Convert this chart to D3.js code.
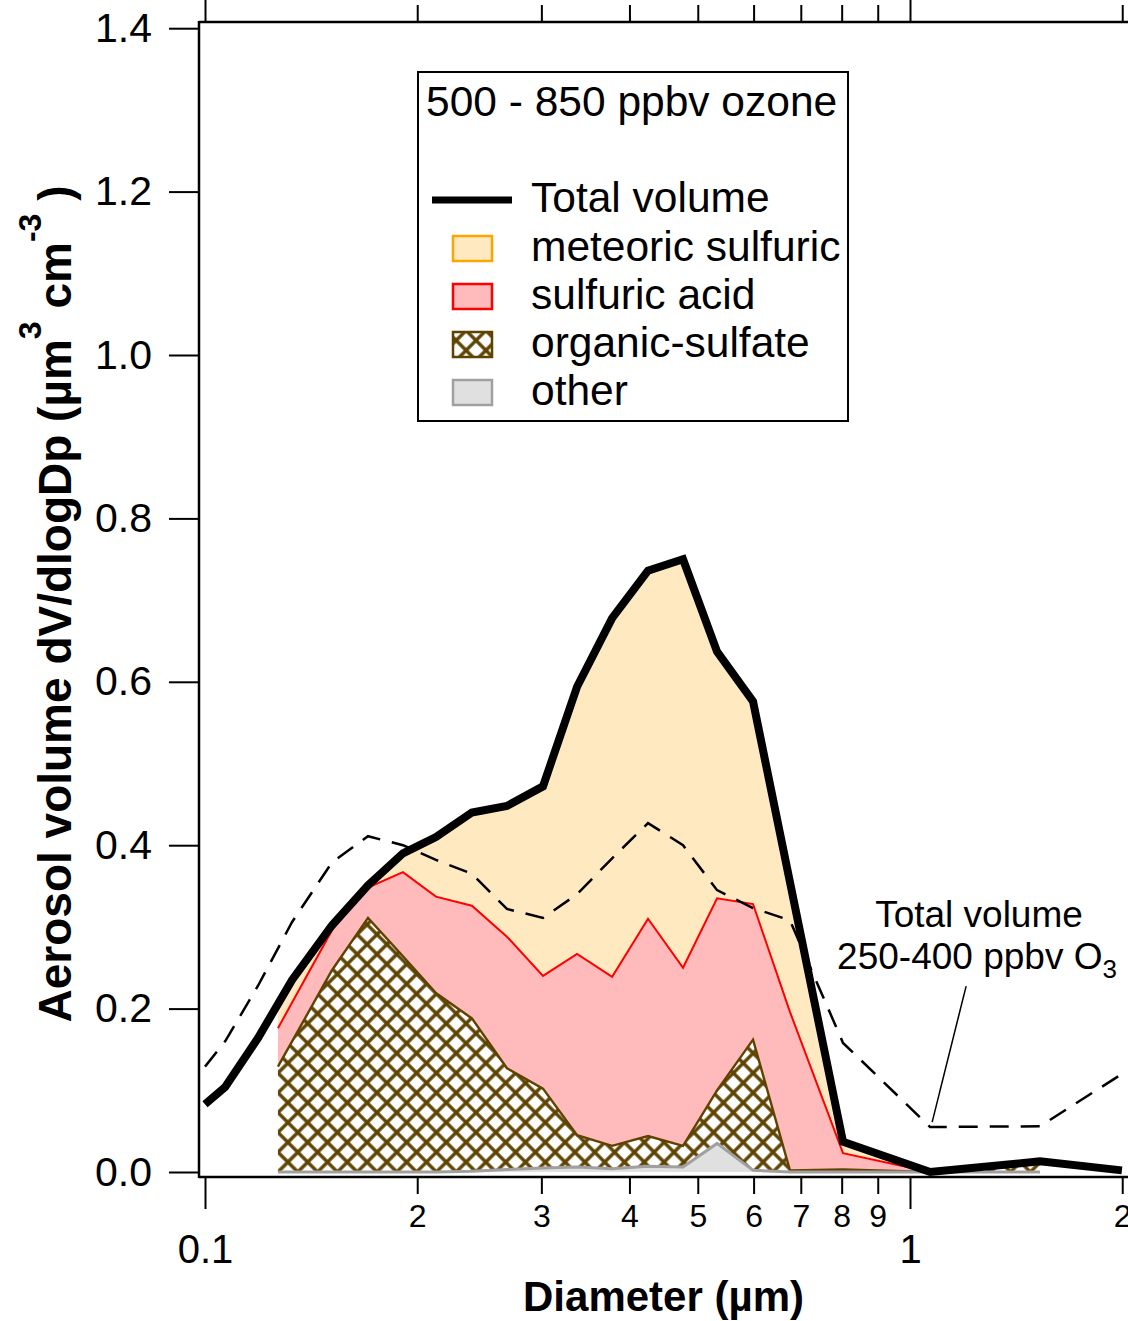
<!DOCTYPE html>
<html><head><meta charset="utf-8">
<script src="https://cdn.jsdelivr.net/npm/d3@7"></script>
<style>
body{margin:0;background:#fff}
svg{display:block}
text{font-family:"Liberation Sans",Arial,Helvetica,sans-serif}
</style>
</head><body>
<svg id="c" width="1128" height="1321"></svg>
<script>
// ---------- DATA ----------
// Total volume, 500-850 ppbv ozone (thick black line)
const totalD = [0.100, 0.1068, 0.1189, 0.1329, 0.1514, 0.1703, 0.1909, 0.2126, 0.2391, 0.2681, 0.3016, 0.3371, 0.3780, 0.4250, 0.4765, 0.5325, 0.5989, 0.8035, 1.068, 1.529, 1.998];
const totalV = [0.083, 0.104, 0.164, 0.235, 0.302, 0.351, 0.390, 0.410, 0.440, 0.448, 0.472, 0.594, 0.678, 0.736, 0.750, 0.637, 0.576, 0.037, 0.000, 0.013, 0.002];
// Total volume, 250-400 ppbv O3 (dashed)
const lowD = [0.100, 0.1068, 0.1189, 0.1329, 0.1514, 0.1703, 0.1909, 0.2126, 0.2391, 0.2681, 0.3016, 0.3371, 0.3780, 0.4250, 0.4765, 0.5325, 0.5989, 0.6756, 0.8035, 1.068, 1.529, 1.998];
const lowV = [0.129, 0.160, 0.228, 0.306, 0.379, 0.411, 0.400, 0.382, 0.365, 0.322, 0.311, 0.340, 0.384, 0.427, 0.400, 0.345, 0.323, 0.308, 0.158, 0.055, 0.056, 0.120];
// Composition (stacked)
const compD    = [0.1269, 0.1514, 0.1703, 0.1909, 0.2126, 0.2391, 0.2681, 0.3016, 0.3371, 0.3780, 0.4250, 0.4765, 0.5325, 0.5989, 0.6756, 0.8035, 1.068, 1.529];
const other    = [0, 0, 0, 0, 0, 0.001, 0.003, 0.005, 0.006, 0.004, 0.007, 0.006, 0.035, 0.002, 0, 0, 0, 0];
const organic  = [0.129, 0.247, 0.311, 0.264, 0.219, 0.187, 0.124, 0.097, 0.039, 0.028, 0.037, 0.026, 0.065, 0.160, 0.002, 0.003, 0.0, 0.012];
const sulfuric = [0.047, 0.049, 0.037, 0.103, 0.118, 0.138, 0.161, 0.138, 0.222, 0.207, 0.266, 0.218, 0.235, 0.166, 0.194, 0.020, 0.0, 0.0];
const meteoric = [0.029, 0.006, 0.003, 0.023, 0.073, 0.114, 0.160, 0.232, 0.327, 0.439, 0.426, 0.500, 0.302, 0.248, 0.158, 0.014, 0.0, 0.001];
// Ticks
const yTicks = [0, 0.2, 0.4, 0.6, 0.8, 1.0, 1.2, 1.4];
const xMajor = [0.1, 1];
const xMajorLabels = ["0.1", "1"];
const xMinor = [0.2, 0.3, 0.4, 0.5, 0.6, 0.7, 0.8, 0.9, 2];
const xMinorLabels = ["2", "3", "4", "5", "6", "7", "8", "9", "2"];
// Legend
const legendTitle = "500 - 850 ppbv ozone";
const legendKeys = ["meteoric", "sulfuric", "organic", "other"];
const legendLabels = ["meteoric sulfuric", "sulfuric acid", "organic-sulfate", "other"];

// ---------- STYLE ----------
const W = 1128, H = 1321;
const L = 199, T = 22, B = 1177, R = W;
const fills = {meteoric: "#FFE9C1", sulfuric: "#FFBBBB", organic: "url(#hatch)", other: "#E0E0E0"};
const strokes = {meteoric: "#FFA500", sulfuric: "#FF0000", organic: "#5E4300", other: "#A0A0A0"};
const strokeW = {meteoric: 1.5, sulfuric: 2, organic: 2.4, other: 3};
const font = '"Liberation Sans",Arial,sans-serif';

const svg = d3.select("#c");
const x = d3.scaleLog().domain([0.1, 1]).range([205, 910]);
const y = d3.scaleLinear().domain([0, 1.4]).range([1172, 28.2]);

const defs = svg.append("defs");
defs.append("clipPath").attr("id", "plotclip").append("rect")
  .attr("x", L).attr("y", T).attr("width", R - L).attr("height", B - T);
const P = 14, PW = 3.4;
const pat = defs.append("pattern").attr("id", "hatch").attr("patternUnits", "userSpaceOnUse")
  .attr("width", P).attr("height", P).attr("patternTransform", "translate(278,1172) rotate(45)");
pat.append("rect").attr("width", P).attr("height", P).attr("fill", "#fff");
pat.append("rect").attr("x", -PW / 2).attr("y", -PW / 2).attr("width", P + PW).attr("height", PW).attr("fill", strokes.organic);
pat.append("rect").attr("x", -PW / 2).attr("y", P - PW / 2).attr("width", P + PW).attr("height", PW).attr("fill", strokes.organic);
pat.append("rect").attr("x", -PW / 2).attr("y", -PW / 2).attr("width", PW).attr("height", P + PW).attr("fill", strokes.organic);
pat.append("rect").attr("x", P - PW / 2).attr("y", -PW / 2).attr("width", PW).attr("height", P + PW).attr("fill", strokes.organic);

const plot = svg.append("g").attr("clip-path", "url(#plotclip)");

// stacked composition
const rows = compD.map((d, i) => ({d, other: other[i], organic: organic[i], sulfuric: sulfuric[i], meteoric: meteoric[i]}));
const series = d3.stack().keys(["other", "organic", "sulfuric", "meteoric"])(rows);
const area = d3.area().x(p => x(p.data.d)).y0(p => y(p[0])).y1(p => y(p[1]));
const topLine = d3.line().x(p => x(p.data.d)).y(p => y(p[1]));

plot.selectAll("path.area").data(series).enter().append("path")
  .attr("class", "area").attr("d", area).attr("fill", s => fills[s.key]).attr("stroke", "none");
["meteoric", "sulfuric", "organic", "other"].forEach(k => {
  const s = series.find(z => z.key === k);
  plot.append("path").attr("d", topLine(s)).attr("fill", "none")
    .attr("stroke", strokes[k]).attr("stroke-width", strokeW[k]).attr("stroke-linejoin", "miter");
});

// dashed low-ozone total
const lowData = lowD.map((d, i) => [d, lowV[i]]);
const ln = d3.line().x(p => x(p[0])).y(p => y(p[1]));
plot.append("path").attr("d", ln(lowData)).attr("fill", "none").attr("stroke", "#000")
  .attr("stroke-width", 2.5).attr("stroke-dasharray", "19,12");

// total volume thick
const totData = totalD.map((d, i) => [d, totalV[i]]);
plot.append("path").attr("d", ln(totData)).attr("fill", "none").attr("stroke", "#000")
  .attr("stroke-width", 8).attr("stroke-linejoin", "miter").attr("stroke-miterlimit", 4);

// ---------- AXES ----------
function styleAxis(g, fs) {
  g.select(".domain").remove();
  g.selectAll("line").attr("stroke", "#000").attr("stroke-width", 2);
  g.selectAll("text").attr("fill", "#000").attr("font-size", fs).attr("font-family", font);
}
svg.append("g").attr("transform", `translate(${L},0)`)
  .call(d3.axisLeft(y).tickValues(yTicks).tickSize(30).tickPadding(17).tickFormat(d3.format(".1f")))
  .call(g => styleAxis(g, 41));
svg.append("g").attr("transform", `translate(0,${B})`)
  .call(d3.axisBottom(x).tickValues(xMajor).tickSize(32).tickPadding(26).tickFormat((d, i) => xMajorLabels[i]))
  .call(g => styleAxis(g, 40));
svg.append("g").attr("transform", `translate(0,${B})`)
  .call(d3.axisBottom(x).tickValues(xMinor).tickSize(17).tickPadding(10).tickFormat((d, i) => xMinorLabels[i]))
  .call(g => styleAxis(g, 32));
svg.append("g").attr("transform", `translate(0,${T})`)
  .call(d3.axisTop(x).tickValues(xMajor).tickSize(24).tickFormat(""))
  .call(g => styleAxis(g, 10));
svg.append("g").attr("transform", `translate(0,${T})`)
  .call(d3.axisTop(x).tickValues(xMinor).tickSize(17).tickFormat(""))
  .call(g => styleAxis(g, 10));

// frame
svg.append("path").attr("d", `M${L},${T}H${R}M${L},${B}H${R}M${L},${T - 1}V${B + 1}`)
  .attr("stroke", "#000").attr("stroke-width", 2.5).attr("fill", "none");

// axis titles
svg.append("text").attr("x", (L + R) / 2).attr("y", 1311).attr("text-anchor", "middle")
  .attr("font-size", 42).attr("font-weight", "bold").text("Diameter (µm)");
const yt = svg.append("text").attr("transform", "translate(71,604) rotate(-90)")
  .attr("text-anchor", "middle").attr("font-size", 46).attr("font-weight", "bold");
yt.append("tspan").text("Aerosol volume dV/dlogDp (µm");
yt.append("tspan").attr("dy", -30).attr("font-size", 32).text("3");
yt.append("tspan").attr("dy", 30).text(" cm");
yt.append("tspan").attr("dy", -30).attr("font-size", 32).text("-3");
yt.append("tspan").attr("dy", 30).text(" )");

// ---------- LEGEND ----------
const lg = svg.append("g");
lg.append("rect").attr("x", 418).attr("y", 72).attr("width", 430).attr("height", 349)
  .attr("fill", "#fff").attr("stroke", "#000").attr("stroke-width", 2);
lg.append("text").attr("x", 426).attr("y", 116).attr("font-size", 42.5).text(legendTitle);
lg.append("line").attr("x1", 432).attr("x2", 512).attr("y1", 200).attr("y2", 200)
  .attr("stroke", "#000").attr("stroke-width", 7);
lg.append("text").attr("x", 531).attr("y", 212).attr("font-size", 42.5).text("Total volume");
legendKeys.forEach((k, i) => {
  const yy = 236 + i * 48;
  lg.append("rect").attr("x", 453).attr("y", yy).attr("width", 39).attr("height", 25)
    .attr("fill", fills[k]).attr("stroke", strokes[k]).attr("stroke-width", 2.5);
  lg.append("text").attr("x", 531).attr("y", yy + 24.5).attr("font-size", 42.5).text(legendLabels[i]);
});

// ---------- ANNOTATION ----------
const tx = x(lowD[19]), ty = y(lowV[19]);
svg.append("line").attr("x1", tx + 2).attr("y1", ty - 5).attr("x2", tx + 36).attr("y2", ty - 141)
  .attr("stroke", "#000").attr("stroke-width", 1.5);
const an = svg.append("text").attr("text-anchor", "middle").attr("font-size", 37);
an.append("tspan").attr("x", 979).attr("y", 927).text("Total volume");
const l2 = svg.append("text").attr("text-anchor", "middle").attr("font-size", 37).attr("x", 977).attr("y", 969);
l2.append("tspan").text("250-400 ppbv O");
l2.append("tspan").attr("font-size", 26).attr("dy", 9).text("3");
</script>
</body></html>
